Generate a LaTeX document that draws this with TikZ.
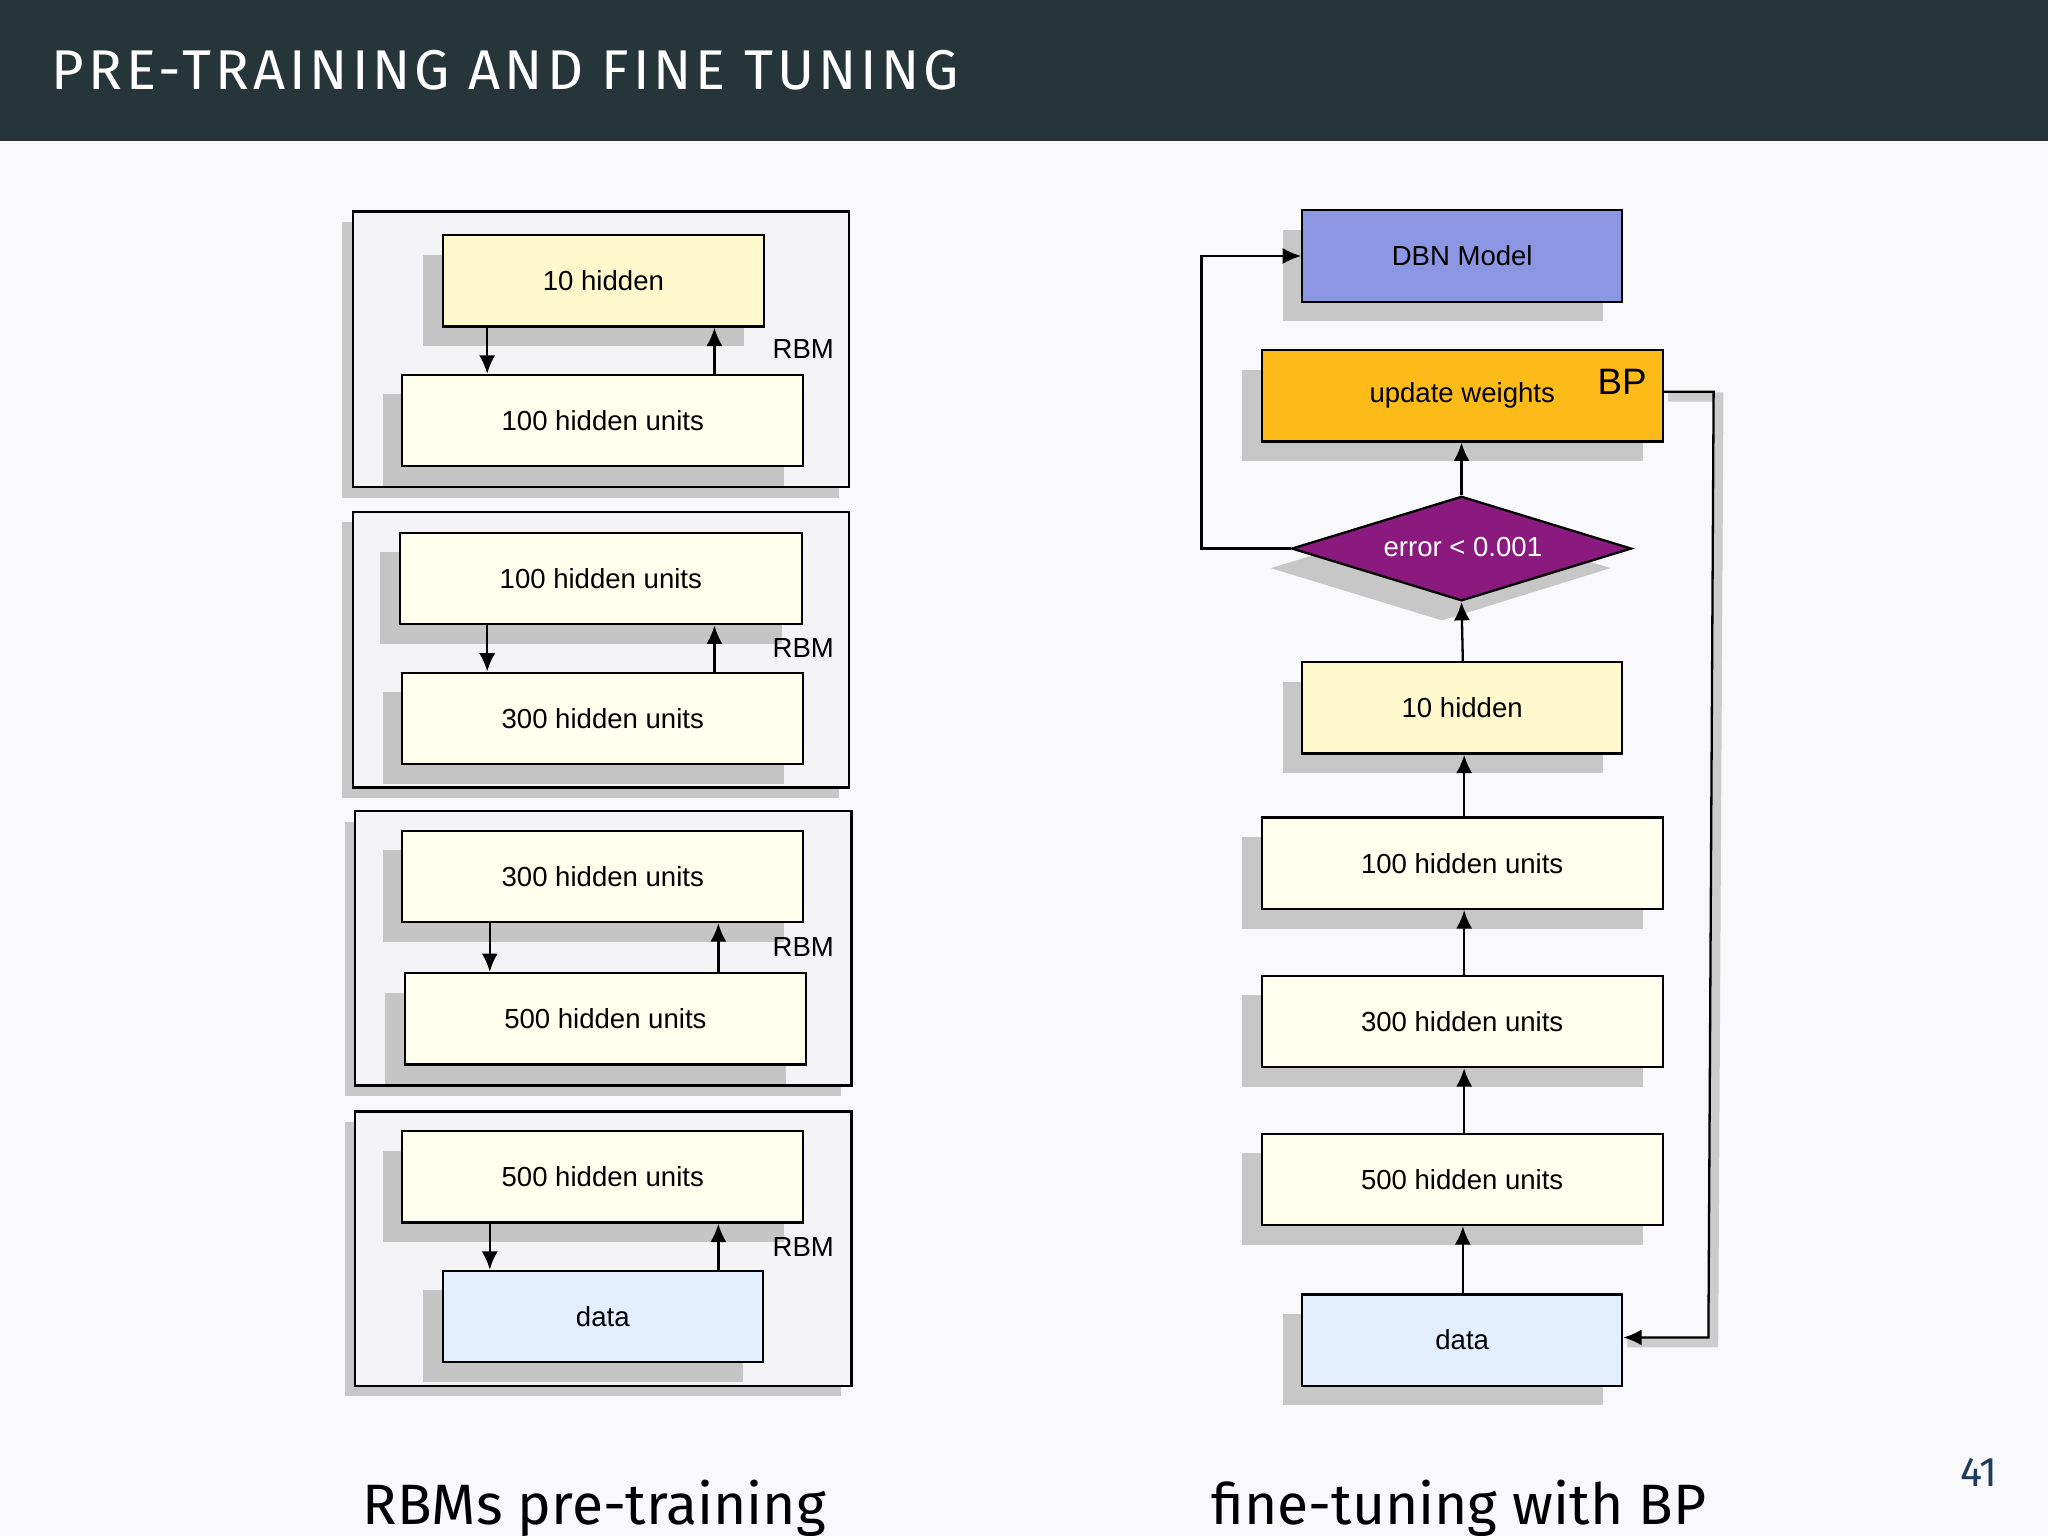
\documentclass[tikz,border=0pt]{standalone}
\usepackage{fontspec}
\setmainfont{Liberation Sans}
\newfontfamily\fira{Fira Sans}
\newfontfamily\firatitle[LetterSpace=7]{Fira Sans}
\usetikzlibrary{shapes.geometric,arrows.meta}
\definecolor{hdr}{HTML}{253539}
\definecolor{bgc}{HTML}{F9F9FB}
\definecolor{frm}{HTML}{F4F4F7}
\definecolor{yel}{HTML}{FFF8CC}
\definecolor{ivo}{HTML}{FFFFEE}
\definecolor{blu}{HTML}{E3EEFF}
\definecolor{dbn}{HTML}{8B97E3}
\definecolor{upd}{HTML}{FDBB1A}
\definecolor{pur}{HTML}{8B1A7F}
\definecolor{pnum}{HTML}{1F3B5A}
\tikzset{
 shad/.style={fill=gray!70,opacity=0.6},
 lab/.style={font=\fontsize{6}{7}\selectfont},
 arr/.style={-{Latex[length=4pt,width=3.5pt]},line width=0.5pt},
 bd/.style={draw=black,line width=0.5pt}
}
\newcommand\mybox[7]{%
 \fill[shad] (#2-15,#3+15) rectangle (#4-15,#5+15);
 \node[bd,fill=#6,minimum width={(#4-#2)*0.01cm},minimum height={(#5-#3)*0.01cm},inner sep=0pt,lab] (#1) at ({(#2+#4)/2},{(#3+#5)/2}) {#7};}
\newcommand\myframe[5]{%
 \fill[shad] (#2-8,#3+8) rectangle (#4-8,#5+8);
 \node[bd,fill=frm,minimum width={(#4-#2)*0.01cm},minimum height={(#5-#3)*0.01cm},inner sep=0pt] (#1) at ({(#2+#4)/2},{(#3+#5)/2}) {};}
\begin{document}
\begin{tikzpicture}[x=0.01cm,y=-0.01cm]
\fill[bgc] (0,0) rectangle (1568,1176);
\useasboundingbox (0,0) rectangle (1568,1176);
\fill[hdr] (0,0) rectangle (1568,108);
\node[anchor=west,inner sep=0pt,text=white,font=\firatitle\fontsize{12.2}{14}\selectfont] (title) at (39,54) {PRE-TRAINING AND FINE TUNING};
% left
\myframe{f1}{270}{162}{650}{373}
\myframe{f2}{270}{392}{650}{603}
\myframe{f3}{272}{621}{652}{831}
\myframe{f4}{272}{851}{652}{1061}
\mybox{a1}{339}{180}{585}{250}{yel}{10 hidden}
\mybox{a2}{308}{287}{615}{357}{ivo}{100 hidden units}
\mybox{b1}{306}{408}{614}{478}{ivo}{100 hidden units}
\mybox{b2}{308}{515}{615}{585}{ivo}{300 hidden units}
\mybox{c1}{308}{636}{615}{706}{ivo}{300 hidden units}
\mybox{c2}{310}{745}{617}{815}{ivo}{500 hidden units}
\mybox{d1}{308}{866}{615}{936}{ivo}{500 hidden units}
\mybox{d2}{339}{973}{584}{1043}{blu}{data}
\foreach \u/\l/\xa/\xb/\y in {a1/a2/373/547/267,b1/b2/373/547/496,c1/c2/375/550/725,d1/d2/375/550/955}{
 \draw[arr] (\u.south -| \xa,0) -- (\l.north -| \xa,0);
 \draw[arr] (\l.north -| \xb,0) -- (\u.south -| \xb,0);
 \node[lab,anchor=center] at (615,\y) {RBM};
}
% right
\mybox{dbn}{997}{161}{1242}{231}{dbn}{DBN Model}
\mybox{upw}{966}{268}{1273}{338}{upd}{update weights}
\node[font=\fontsize{8}{9}\selectfont] (bp) at (1242,292) {BP};
\fill[shad] (988-15,435) -- (1119-15,380+15) -- (1248-15,435) -- (1119-15,460+15) -- cycle;
\node[diamond,bd,fill=pur,text=white,minimum width=2.6cm,minimum height=0.8cm,inner sep=0pt,aspect=3.25,lab] (err) at (1119,420) {};
\node[lab,text=white] (errt) at (1120,419) {error < 0.001};
\mybox{r10}{997}{507}{1242}{577}{yel}{10 hidden}
\mybox{r100}{966}{626}{1273}{696}{ivo}{100 hidden units}
\mybox{r300}{966}{747}{1273}{817}{ivo}{300 hidden units}
\mybox{r500}{966}{868}{1273}{938}{ivo}{500 hidden units}
\mybox{rd}{997}{991}{1242}{1061}{blu}{data}
\draw[arr] (rd.north -| 1120,0) -- (r500.south -| 1120,0);
\draw[arr] (r500.north -| 1121,0) -- (r300.south -| 1121,0);
\draw[arr] (r300.north -| 1121,0) -- (r100.south -| 1121,0);
\draw[arr] (r100.north -| 1121,0) -- (r10.south -| 1121,0);
\draw[arr] (r10.north -| 1120,0) -- (err.south);
\draw[arr] (err.north) -- (upw.south -| err.north);
\draw[arr] (err.west) -- (920,420) -- (920,196) -- (dbn.west);
\draw[draw=gray!40,line width=2pt] (1277,304) -- (1316,304) -- (1312,1028) -- (1246,1028);
\draw[arr] (upw.east |- 0,300) -- (1312,300) -- (1308,1024) -- (rd.east |- 0,1024);
% captions
\node[font=\fira\fontsize{12.4}{14}\selectfont] (cap1) at (455,1155) {RBMs pre-training};
\node[font=\fira\fontsize{12.4}{14}\selectfont] (cap2) at (1117,1155) {fine-tuning with BP};
\node[font=\fira\fontsize{9}{10}\selectfont,text=pnum] (pg) at (1515,1127) {41};
\end{tikzpicture}
\end{document}
